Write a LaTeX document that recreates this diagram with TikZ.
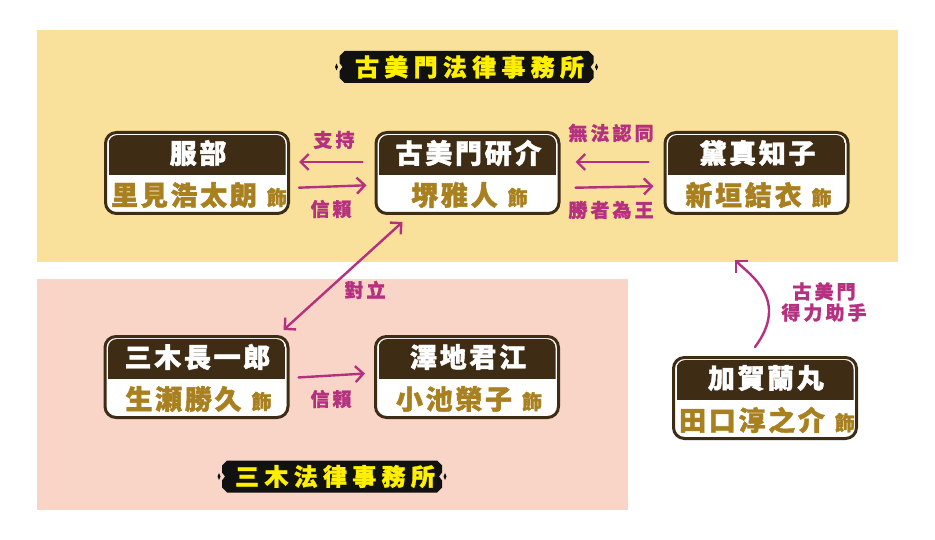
\documentclass[tikz,border=0pt]{standalone}
\usepackage{fontspec}
\usetikzlibrary{arrows.meta}
\newfontfamily\cjkhd[LetterSpace=10,FakeBold=1.5]{Noto Sans CJK TC Black}
\newfontfamily\cjkbn[LetterSpace=22,FakeBold=1.2]{Noto Sans CJK TC Black}
\newfontfamily\cjklb[LetterSpace=16,FakeBold=0.8]{Noto Sans CJK TC Black}
\newfontfamily\cjkpl[FakeBold=1.2]{Noto Sans CJK TC Black}
\definecolor{bgY}{HTML}{F9E09B}
\definecolor{bgP}{HTML}{F9D5C7}
\definecolor{brn}{HTML}{3F2C15}
\definecolor{gld}{HTML}{A98020}
\definecolor{mag}{HTML}{B5317F}
\definecolor{ban}{HTML}{FFF000}
\definecolor{bk}{HTML}{111111}
\tikzset{
 pbox/.style={draw=brn, line width=3pt, fill=white, rounded corners=11pt, minimum width=183pt, minimum height=81pt, inner sep=0pt},
 hdtxt/.style={text=white, font={\cjkhd\fontsize{27}{27}\selectfont}, inner sep=0pt},
 actxt/.style={text=gld, font={\cjkhd\fontsize{27}{27}\selectfont}, inner sep=0pt},
 rel/.style={draw=mag, line width=2.4pt, line cap=round, -{Straight Barb[length=8pt,width=16pt]}},
 relboth/.style={draw=mag, line width=2.4pt, line cap=round, {Straight Barb[length=8pt,width=16pt]}-{Straight Barb[length=8pt,width=16pt]}},
 lbl/.style={text=mag, font={\cjklb\fontsize{19}{19}\selectfont}, inner sep=0pt, align=center},
 bntxt/.style={text=ban, font={\cjkbn\fontsize{24}{24}\selectfont}, inner sep=0pt},
}
\newcommand\personbox[5]{%
  \node[pbox] (#1) at (#2,#3) {};
  \begin{scope}
    \clip[rounded corners=9pt] ({#2-88.5},{#3-38}) rectangle ({#2+88.5},{#3+38});
    \fill[brn] ({#2-88.5},{#3-38}) rectangle ({#2+88.5},{#3+2});
  \end{scope}
  \node[hdtxt] (#1-hd) at ({#2+1},{#3-20}) {#4};
  \node[actxt] (#1-ac) at ({#2+2},{#3+22}) {#5\hspace{10pt}{\cjkpl\fontsize{20}{20}\selectfont 飾}};
}
\newcommand\bannerbox[5]{%
  \fill[bk] ({#2-#4+6},{#3-16}) -- ({#2+#4-6},{#3-16}) -- ({#2+#4-1},{#3-11}) -- ({#2+#4-1},{#3-4}) -- ({#2+#4-4},{#3}) -- ({#2+#4-1},{#3+4}) -- ({#2+#4-1},{#3+11}) -- ({#2+#4-6},{#3+16}) -- ({#2-#4+6},{#3+16}) -- ({#2-#4+1},{#3+11}) -- ({#2-#4+1},{#3+4}) -- ({#2-#4+4},{#3}) -- ({#2-#4+1},{#3-4}) -- ({#2-#4+1},{#3-11}) -- cycle;
  \fill[bk] ({#2-#4-3.5},{#3}) -- ({#2-#4-2},{#3-3.5}) -- ({#2-#4-0.5},{#3}) -- ({#2-#4-2},{#3+3.5}) -- cycle;
  \fill[bk] ({#2+#4+3.5},{#3}) -- ({#2+#4+2},{#3-3.5}) -- ({#2+#4+0.5},{#3}) -- ({#2+#4+2},{#3+3.5}) -- cycle;
  \node[bntxt] (#1) at ({#2+3},#3) {#5};
}
\begin{document}
\begin{tikzpicture}[x=1pt,y=-1pt]
\useasboundingbox (0,0) rectangle (935,540);
\fill[white] (0,0) rectangle (935,540);
\fill[bgY] (37,30) rectangle (898,262);
\fill[bgP] (37,279) rectangle (628,510);

\bannerbox{firmA}{466.5}{67}{128}{古美門法律事務所}
\bannerbox{firmB}{332}{476.5}{111}{三木法律事務所}

\personbox{hattori}{197}{173}{服部}{里見浩太朗}
\personbox{kominato}{467.5}{173}{古美門研介}{堺雅人}
\personbox{mayuzumi}{756.5}{173}{黛真知子}{新垣結衣}
\personbox{miki}{196.5}{377}{三木長一郎}{生瀬勝久}
\personbox{sawachi}{467}{377}{澤地君江}{小池榮子}
\personbox{ranmaru}{765}{398}{加賀蘭丸}{田口淳之介}

\draw[rel, shorten <=12pt, shorten >=9pt] ([yshift=11pt]kominato.west) -- ([yshift=11pt]hattori.east);
\draw[rel, shorten <=9pt, shorten >=8pt] ([yshift=-15pt]hattori.east) -- ([yshift=-12pt]kominato.west);
\draw[rel, shorten <=15pt, shorten >=15pt] ([yshift=11pt]mayuzumi.west) -- ([yshift=11pt]kominato.east);
\draw[rel, shorten <=15pt, shorten >=10pt] ([yshift=-15pt]kominato.east) -- ([yshift=-13pt]mayuzumi.west);
\draw[relboth] ([shift={(28,7)}]kominato.south west) -- ([shift={(-6,-5)}]miki.north east);
\draw[rel, shorten <=9pt, shorten >=9pt] ([yshift=-1pt]miki.east) -- ([yshift=4pt]sawachi.west);
\draw[rel] ([shift={(-10,-9)}]ranmaru.north) .. controls (790,300) and (750,275) .. ([shift={(-21.5,45)}]mayuzumi.south);

\node[lbl] (l1) at (334,140) {支持};
\node[lbl] (l2) at (331,209) {信賴};
\node[lbl] (l3) at (611,133) {無法認同};
\node[lbl] (l4) at (611,210) {勝者為王};
\node[lbl] (l5) at (365,290) {對立};
\node[lbl] (l6) at (331,399) {信賴};
\node[lbl] (l7) at (824,302) {古美門\\[2pt]得力助手};
\end{tikzpicture}
\end{document}
